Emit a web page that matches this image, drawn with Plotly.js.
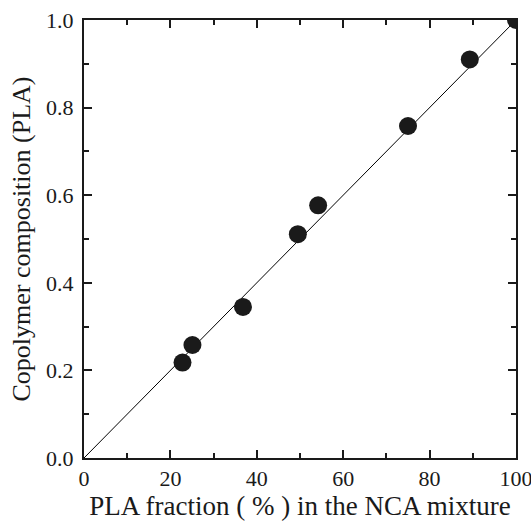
<!DOCTYPE html>
<html>
<head>
<meta charset="utf-8">
<script src="https://cdn.plot.ly/plotly-3.0.1.min.js"></script>
<style>html,body{margin:0;padding:0;background:#fff;}#chart{width:531px;height:523px;}</style>
</head>
<body>
<div id="chart"></div>
<script>
// Data
const plaFraction = [22.8, 25.1, 36.8, 49.5, 54.2, 75.0, 89.3, 100];
const copolymerPLA = [0.218, 0.258, 0.345, 0.511, 0.577, 0.758, 0.910, 1.0];
const lineX = [0, 100];
const lineY = [0, 1.0];
const xTicks = [0, 20, 40, 60, 80, 100];
const yTicks = [0, 0.2, 0.4, 0.6, 0.8, 1.0];

const fontFam = 'Liberation Serif, Times New Roman, serif';
const ink = '#1a1a1a';

const traces = [
  {x: lineX, y: lineY, mode: 'lines', type: 'scatter',
   line: {color: '#000', width: 1}, hoverinfo: 'skip', showlegend: false},
  {x: plaFraction, y: copolymerPLA, mode: 'markers', type: 'scatter',
   marker: {color: ink, size: 18}, cliponaxis: true, showlegend: false}
];

const axisCommon = {
  showline: true, linecolor: ink, linewidth: 2, mirror: 'allticks',
  ticks: 'inside', ticklen: 8, tickwidth: 2, tickcolor: ink,
  showgrid: false, zeroline: false,
  tickfont: {family: fontFam, size: 22, color: ink}
};

const layout = {
  width: 531, height: 523,
  margin: {l: 84, r: 15, t: 20, b: 65},
  paper_bgcolor: '#fff', plot_bgcolor: '#fff',
  font: {family: fontFam, color: ink},
  xaxis: Object.assign({}, axisCommon, {
    range: [0, 100], tickvals: xTicks, ticklabeloverflow: 'allow',
    minor: {ticks: 'inside', ticklen: 5, tickwidth: 2, tickcolor: ink, dtick: 10, showgrid: false},
    title: {text: 'PLA fraction ( % ) in the NCA mixture', font: {family: fontFam, size: 27, color: ink}, standoff: 6}
  }),
  yaxis: Object.assign({}, axisCommon, {
    range: [0, 1.0], tickvals: yTicks, tickformat: '.1f', ticklabelstandoff: 4,
    minor: {ticks: 'inside', ticklen: 5, tickwidth: 2, tickcolor: ink, dtick: 0.1, showgrid: false},
    title: {text: 'Copolymer composition (PLA)', font: {family: fontFam, size: 26, color: ink}, standoff: 8}
  })
};

Plotly.newPlot('chart', traces, layout, {displayModeBar: false, staticPlot: true});
</script>
</body>
</html>
